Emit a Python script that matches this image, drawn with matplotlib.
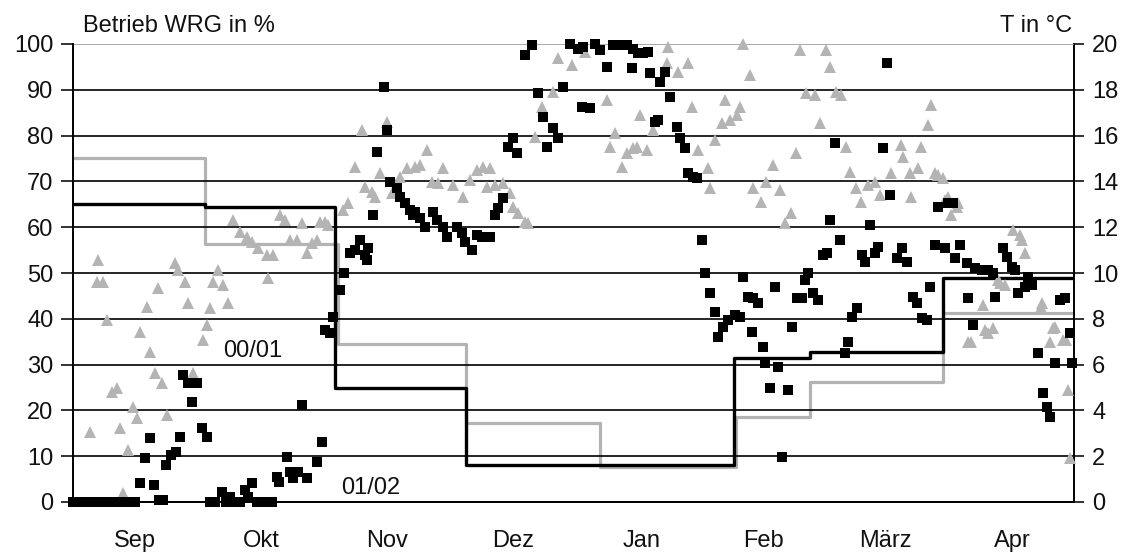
import matplotlib
matplotlib.use("Agg")
import matplotlib.pyplot as plt

plt.rcParams['font.family'] = ['Liberation Sans', 'DejaVu Sans']

# x axis: days since 1 Sep; months
months = ["Sep", "Okt", "Nov", "Dez", "Jan", "Feb", "März", "Apr"]
month_days = [30, 31, 30, 31, 31, 28, 31, 30]

# Season 01/02 (black squares): day, Betrieb WRG in %
black_days = [0, 1, 2, 3, 4, 5, 6, 7, 8, 9, 10, 11, 12, 13, 14, 15,
              16.2, 17.4, 18.6, 19.6, 20.8, 21.8, 22.5, 23.7, 24.9, 25.9, 26.6, 27.8, 28.7, 30, 31.2, 32.3,
              33.1, 34.3, 36, 37, 38, 39.2, 40.4, 41.6, 42.3, 43.3, 44.5, 45.7, 46.9, 48.1,
              49.3, 49.8, 51.7, 52.5, 53.2, 54.4, 55.4, 56.6, 59, 60.2,
              60.9, 62.1, 62.9, 64.6, 65.5, 67, 68.2, 69.4, 70.6, 71.3, 71.1, 72.5, 73.5, 75.2, 75.9, 76.6,
              78.3, 79.1, 80.3, 81.5, 82.2, 82.7, 83.9, 85.1, 87, 88, 89.5, 90.4, 92.8, 94, 94.8, 96.5,
              97.7, 98.9, 100.8, 102, 102.8, 104, 105.2, 106.4, 107.4, 109.3, 111, 112.4, 113.6, 114.6,
              116.1, 117.3, 118.5, 120.2, 122.1, 123.1, 123.3, 125, 126.2, 127.4, 129.1, 130.6, 132.3,
              133.9, 135.2, 135.4, 136.6, 137.8, 139, 139.5, 140.7, 141.4, 141.9, 143.1, 144.3, 146,
              146.8, 148, 148.7, 149.9, 150.9, 152.1, 152.8, 154, 155.2, 155.9, 157.2, 158.4, 160.1,
              161.3, 162, 163.2, 164.2, 164.4, 165.6, 166.8, 167.3, 168.5, 169.7, 170.5, 171.4, 172.9,
              173.8, 175, 176.3, 177, 177.7, 178.9, 180.1, 181.3, 182.3, 183, 184.2, 185.4, 186.7,
              187.4, 188.3, 189.6, 190.8, 191.5, 192.7, 193.9, 194.6, 195.8, 196.8, 197.5, 199.2,
              200.4, 201.6, 203.1, 204.1, 205.3, 206.5, 207.2, 208.4, 209.1, 210.8, 211.6, 212.8,
              213.3, 214.5, 216.1, 216.4, 217.6, 218.1, 219.8, 221.2, 222.4, 222.9, 224.9, 225.8,
              227, 227.8, 228.5, 230.2, 230.9, 231.9, 233.3, 234.5, 235.5, 236.2, 237.4, 238.6,
              239.8, 241, 241.5]
black_vals = [0, 0, 0, 0, 0, 0, 0, 0, 0, 0, 0, 0, 0, 0, 0, 0,
              4.1, 9.6, 14, 3.7, 0.4, 0.5, 8, 10.3, 11, 14.3, 27.7, 26, 21.8, 26, 16.2, 14.3,
              0, 0, 2.2, 0, 1, 0, 0, 2.6, 1, 4.1, 0, 0, 0, 0,
              5.5, 4.4, 9.8, 6.6, 5.2, 6.6, 21.2, 5.2, 8.7, 13.1,
              37.6, 36.9, 40.4, 46.3, 50, 54.4, 55, 57.2, 54, 55.5, 52.8, 62.7, 76.4, 90.6, 81.2, 69.9,
              68.6, 66.6, 65.3, 63.8, 62.7, 63.3, 62, 60, 63.3, 61.6, 60, 57.9, 60, 58.7, 56.8, 55,
              58.3, 57.9, 57.9, 62.7, 64.2, 66.4, 77.5, 79.5, 76.2, 97.6, 99.8, 89.3, 84, 77.5,
              81.7, 79.5, 90.6, 100, 99, 86.2, 99.3, 86, 100, 98.7, 95, 99.8, 99.8,
              99.8, 94.8, 99, 98, 98, 98.3, 93.7, 83, 83.4, 91.7, 93.9, 88.4, 81.9,
              79.5, 77.3, 71.8, 71, 70.7, 57.2, 50, 45.6, 41.5, 36, 38.2, 39.7, 40.8,
              40.4, 49.1, 44.8, 37.1, 44.5, 43.4, 33.8, 30.3, 24.9, 46.9, 29.5, 9.8, 24.5,
              38.2, 44.5, 44.5, 48.5, 50, 45.6, 44.1, 53.9, 54.4, 61.6, 78.4, 57.2, 32.5,
              34.9, 40.4, 42.4, 53.9, 52.4, 60.5, 54.4, 55.7, 77.3, 95.9, 67, 53.3,
              55.5, 52.4, 44.8, 43.4, 40.2, 39.7, 46.9, 56.1, 64.4, 55.5, 65.3, 65.3,
              53.3, 56.1, 52.2, 44.5, 38.6, 51.1, 50.7, 50.7, 50, 44.8, 55.5, 53.5,
              51.3, 50.7, 45.6, 46.9, 49.1, 47.4, 32.5, 23.8, 20.7, 18.6, 30.3, 44.1,
              44.5, 36.9, 30.3]

# Season 00/01 (grey triangles): day, Betrieb WRG in %
grey_days = [4.1, 5.8, 6, 7.3, 8.2, 9.4, 10.6, 11.4, 12.1, 13.3, 14.5, 15.5, 16.2, 17.9, 18.6,
             19.8, 21.5, 20.6, 22.7, 24.7, 25.4, 27.1, 27.8, 29, 31.4, 32.4, 33.1, 33.8, 35.1,
             36.3, 37.5, 38.7, 40.4, 42.1, 43.3, 44.7, 46.9, 48.4, 47.1, 50, 51.3, 52.5, 54.2,
             55.4, 56.6, 57.8, 59, 59.7, 60.9, 61.7, 65.3, 66.5, 68.2, 69.9, 70.6, 72.3, 73,
             74.2, 75.9, 77.1, 79.1, 80.8, 82.7, 83.9, 85.6, 86.8, 88.2, 89.5, 91.9, 94.3, 96,
             97.7, 99.1, 100.8, 100.1, 102, 104, 105.7, 106.4, 107.6, 109.3, 110, 111.7, 113.4,
             116.1, 117.3, 120.6, 123.8, 129.1, 129.8, 131, 132.7, 133.9, 135.4, 136.4, 137.1,
             138.8, 140.2, 143.9, 143.6, 146.3, 148.7, 149.7, 151.1, 153.5, 154, 155.2, 156.9,
             157.6, 158.8, 160.5, 161.3, 162, 163.7, 164.4, 166.3, 167.6, 169.2, 170.9, 172.1,
             173.6, 174.8, 175.8, 177.2, 179.4, 180.6, 182.1, 183, 184.5, 185.7, 186.9, 187.9,
             189.3, 190.5, 192.2, 193.9, 195.1, 197.8, 200.2, 200.7, 202.4, 202.6, 204.3, 205,
             206.7, 207.4, 208.4, 209.1, 210.3, 210.8, 211.6, 212.3, 213.7, 214, 217.1, 216.4,
             220, 220.5, 221.2, 222.4, 223.6, 224.1, 225.3, 227.3, 229, 229.5, 230.2, 234,
             234.3, 236.9, 236.2, 237.4, 239.4, 240.1, 240.6, 241]
grey_vals = [15.3, 48, 52.8, 48, 39.7, 24, 24.9, 16.2, 2, 11.4, 20.7, 18.3, 37.1, 42.6, 32.8,
             28.2, 26, 46.7, 19, 52.2, 50.7, 48, 43.4, 28.2, 35.4, 38.6, 42.4, 48, 50.7,
             47.4, 43.4, 61.6, 59, 57.9, 56.8, 55.5, 54, 54, 48.9, 62.7, 61.6, 57.2, 57.2,
             60.9, 54.4, 56.6, 57.2, 61.1, 61.1, 60.5, 63.8, 65.3, 73.1, 81.2, 68.8, 67.7, 66.6,
             71.8, 83, 67.5, 71, 72.9, 73.1, 73.6, 76.9, 69.9, 69.7, 72.9, 69.2, 66.6, 70.3,
             72.5, 73.1, 72.9, 68.8, 69.2, 69.7, 67.5, 64.4, 63.1, 61.1, 60.9, 79.7, 86.2,
             89.5, 96.9, 95.4, 98.3, 87.8, 77.5, 80.6, 73.1, 76.2, 77.3, 77.5, 84.5,
             76.9, 81.2, 99.3, 95.9, 93.9, 95.9, 86.2, 76.9, 72.9, 68.6, 79, 82.8,
             87.8, 83.4, 84.5, 86.2, 100, 93.2, 68.6, 65.5, 69.9, 73.6, 68.1, 60.9,
             63.1, 76.2, 98.7, 89.3, 88.9, 82.8, 98.7, 95, 89.5, 88.9, 77.5, 72.1,
             68.6, 65.5, 69.2, 69.9, 67, 71.8, 77.9, 75.3, 71.8, 66.6, 72.9, 77.5,
             82.3, 86.7, 71.8, 71.4, 70.7, 65.9, 66.6, 62.7, 64.4, 65.3, 34.9, 34.9,
             43, 37.6, 36.9, 38, 48.5, 47.8, 47.4, 59.4, 58.3, 57.2, 54.4, 42.6,
             43.4, 38, 34.9, 38.2, 35.4, 35.4, 24.5, 9.6]

# Monthly mean outdoor temperature (T in °C) as steps: start day of each step, value
black_step_days = [0, 31.9, 63.3, 95.0, 159.8, 178.2, 210.3, 242]
black_step_T = [13.0, 12.9, 5.0, 1.6, 6.3, 6.55, 9.8, 9.8]
grey_step_days = [0, 31.9, 64.0, 95.0, 127.4, 160.2, 178.2, 210.3, 242]
grey_step_T = [15.0, 11.25, 6.9, 3.45, 1.53, 3.7, 5.24, 8.26, 8.26]

season_labels = ["00/01", "01/02"]

W, H = 1128, 552
fig = plt.figure(figsize=(W / 100, H / 100), dpi=100)
x0, x1, ytop, ybot = 73, 1074, 44, 502
ax = fig.add_axes([x0 / W, 1 - ybot / H, (x1 - x0) / W, (ybot - ytop) / H])
ax2 = ax.twinx()
ax.set_zorder(ax2.get_zorder() + 1)
ax.patch.set_visible(False)

total_days = sum(month_days)
ax.set_xlim(0, total_days)
ax.set_ylim(0, 100)
ax2.set_ylim(0, 20)

FS = 17
TXT = "#111111"

# grid
ax.set_yticks(range(0, 101, 10))
for v in range(10, 100, 10):
    ax.axhline(v, color="black", lw=1.2, zorder=0)
ax.axhline(100, color="#9a9a9a", lw=1.2, zorder=0)

# step lines (temperature)
ax2.plot(grey_step_days, grey_step_T, drawstyle="steps-post", color="#b3b3b3", lw=2.3, zorder=2)
ax2.plot(black_step_days, black_step_T, drawstyle="steps-post", color="black", lw=2.4, zorder=3)

# scatter points
ax.plot(grey_days, grey_vals, linestyle="none", marker="^", markersize=8,
        color="#b4b4b4", markeredgewidth=0, zorder=4, clip_on=False)
ax.plot(black_days, black_vals, linestyle="none", marker="s", markersize=7.6,
        color="black", markeredgewidth=0, zorder=5, clip_on=False)

# month labels
starts = [sum(month_days[:i]) for i in range(len(month_days))]
centers = [s + d / 2 for s, d in zip(starts, month_days)]
ax.set_xticks(centers)
ax.set_xticklabels(months)
ax.tick_params(axis="x", length=0, pad=20, labelsize=FS, colors=TXT)

ax.tick_params(axis="y", length=9, width=1.2, pad=5, labelsize=FS, colors=TXT)
ax2.set_yticks(range(0, 21, 2))
ax2.tick_params(axis="y", length=7, width=1.2, pad=6, labelsize=FS, colors=TXT)

for a in (ax, ax2):
    a.spines["top"].set_visible(False)
    for s in ("left", "right", "bottom"):
        a.spines[s].set_linewidth(1.4)
        a.spines[s].set_color("black")
ax.spines["right"].set_visible(False)
ax2.spines["left"].set_visible(False)

# titles for axes
fig.text(83 / W, 1 - 26 / H, "Betrieb WRG in %", ha="left", va="center", fontsize=FS, color=TXT)
fig.text(1072 / W, 1 - 26 / H, "T in °C", ha="right", va="center", fontsize=FS, color=TXT)

# season labels
ax.text(43.5, 33, season_labels[0], ha="center", va="center", fontsize=FS, color=TXT)
ax.text(72, 3, season_labels[1], ha="center", va="center", fontsize=FS, color=TXT)

fig.savefig("out.png", dpi=100, facecolor="white")
